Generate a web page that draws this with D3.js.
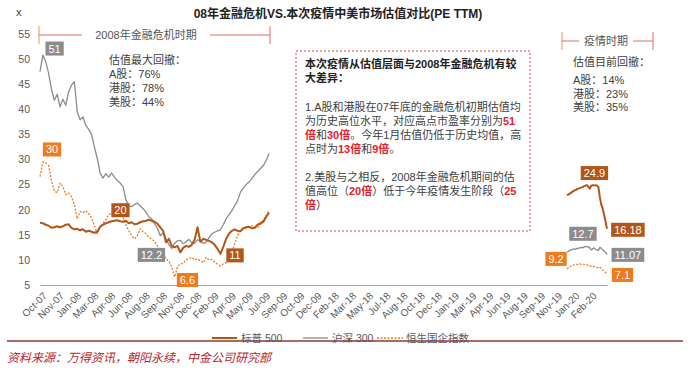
<!DOCTYPE html>
<html>
<head>
<meta charset="utf-8">
<script src="https://cdn.jsdelivr.net/npm/d3@7"></script>
<style>
body{margin:0;background:#fff;}
text{font-family:"Liberation Sans",Arial,"Noto Sans CJK SC",sans-serif;}
</style>
</head>
<body>
<div id="chart"></div>
<script>
// category labels on the x axis (one every 6 steps)
var xLabels = ["Oct-07","Nov-07","Jan-08","Mar-08","Apr-08","Jun-08","Aug-08","Sep-08","Nov-08","Dec-08",
  "Feb-09","Apr-09","May-09","Jul-09","Sep-09","Oct-09","Dec-09","Feb-18","Mar-18","May-18","Jul-18",
  "Aug-18","Oct-18","Dec-18","Jan-19","Mar-19","Apr-19","Jun-19","Aug-19","Sep-19","Nov-19","Jan-20","Feb-20"];
var yTicks = [5,10,15,20,25,30,35,40,45,50,55];

// 2007-2009 segment, one value per step starting at step 0
var csi300_0709 = [47.5,50.8,49.5,47.2,44,41.8,43,40.5,42,40.8,
  43.5,44.8,45.5,39.5,37.9,38.5,36.8,36,35,32.5,
  30.2,27.3,26.3,27.2,26.5,27.3,26.5,25.8,25.3,24.6,
  22,20.8,20.6,21,21.3,20.8,20.2,19.5,18.6,18.2,
  17.2,16.3,14.8,15.4,14.2,13,12.3,13.3,13.8,13.9,
  13.2,13.6,14.1,13.4,13.3,14,13.8,13.3,13.5,14.4,
  15.2,15.5,15.8,16,17,18.2,19,19.8,20.8,21.8,
  23.5,24.3,25,25.5,26.2,27,27.6,28.2,28.8,29.8,31.2];
var sp500_0709 = [17.4,17.3,17,16.8,16.4,16.5,16.7,16.5,16.7,17,
  17.1,16.4,16.1,16.2,15.9,16.1,15.6,15.8,15.6,15.4,
  15.6,16.6,17,17.3,17.5,17.7,17.8,17.9,17.7,17.6,
  17.8,17.3,17.5,17.1,17.2,17.5,17.7,17.8,18,17.8,
  17.6,17.2,16.5,15.8,13.5,14.2,12.8,12.5,12.8,11.5,
  12.4,12.8,12.6,13,14,16.5,13.6,14.2,14,13.8,
  13.5,13,12.2,11.2,12.6,14.2,15.2,15.8,16.1,15.8,
  15.7,16.3,16.5,16.6,16.3,16.4,17,17.3,17.6,18.6,19.4];
var hscei_0709 = [26.6,29.5,29.3,28.8,25.8,23.7,23.4,25.3,24.6,23,
  23.3,22.6,21,18.2,19.6,19.4,19.8,19.2,18.4,16.8,
  15.2,16.6,17.3,18,19,19.3,19,19,19.3,18.6,
  17,15.8,14.8,14.2,14.8,16.2,15.6,15.2,14.5,14.2,
  13.6,12.8,12,11.3,10.2,9.8,8.6,6.6,8.6,9.2,
  9.3,10,10.3,10.5,10,10.2,9.9,9.4,10.5,10,
  10.1,9.6,9.1,8.8,9.2,9.4,10.3,11.4,13.3,14.8,
  16,16.2,16.4,16.6,16.8,16.6,16.4,17,18,18.8,20];

// 2019-2020 segment, half-step values starting at step 184
var csi300_20 = [11.6,11.7,11.9,12.0,12.1,12.2,12.1,12.3,12.3,12.4,
  12.5,12.4,12.6,12.7,12.6,12.6,12.4,12.0,12.2,12.4,
  12.1,12.0,11.9,12.5,12.3,12.0,11.8,11.5,11.07];
var sp500_20 = [22.9,23,23.2,23.4,23.6,23.8,23.9,24.1,24.2,24.3,
  24.4,24.5,24.7,24.8,24.9,24.6,24.2,24.8,24.9,24.8,
  24.9,24.8,24.5,22.5,21,20.2,19,17.6,16.2];
var hscei_20 = [8.2,8.4,8.6,8.8,8.9,9.0,9.0,9.1,9.1,9.2,
  9.1,9.2,9.1,9.0,9.0,8.9,8.8,8.7,8.6,8.7,
  8.6,8.5,8.4,8.5,8.3,8.0,7.8,7.5,7.2];

var seriesNames = ["标普 500","沪深 300","恒生国企指数"];
var seriesColors = {sp:"#B2561A", csi:"#8C8C8C", hs:"#F07A1E"};

// value callouts: text, series, centre in data units (step, value)
var callouts = [
  ["51","csi",5.1,52.1],["30","hs",4.2,32.0],["20","sp",28.1,19.9],
  ["12.2","csi",38.9,11.0],["6.6","hs",51.5,6.0],["11","sp",68.1,10.9],
  ["24.9","sp",193.6,27.3],["16.18","sp",205.3,16.0],["12.7","csi",189.6,15.2],
  ["11.07","csi",205.3,11.0],["9.2","hs",180.2,10.2],["7.1","hs",203.4,7.0]
];

var w = 690, h = 368;
var svg = d3.select("#chart").append("svg").attr("width", w).attr("height", h);
svg.append("rect").attr("width", w).attr("height", h).attr("fill", "white");

var x = d3.scaleLinear().domain([0, 198]).range([40, 607]);
var y = d3.scaleLinear().domain([5, 55]).range([285, 34]);

function toPoints(vals, start, step){
  return vals.map(function(v, i){ return {i: start + i*step, v: v}; });
}

// axes
var yAxis = d3.axisLeft(y).tickValues(yTicks).tickSize(0).tickPadding(10);
var gy = svg.append("g").attr("transform", "translate(40,0)").call(yAxis);
gy.select(".domain").remove();
gy.selectAll("text").style("font-size", "10.5px").attr("fill", "#595959");

var xAxis = d3.axisBottom(x)
  .tickValues(xLabels.map(function(d, i){ return 6*i + 3; }))
  .tickFormat(function(d, i){ return xLabels[i]; })
  .tickSize(0);
var gx = svg.append("g").attr("transform", "translate(0,285)").call(xAxis);
gx.select(".domain").attr("stroke", "#a6a6a6");
gx.selectAll("text")
  .attr("x", 0).attr("y", 0).attr("dy", "0.35em")
  .attr("text-anchor", "end")
  .attr("transform", "translate(-4,9) rotate(-45)")
  .style("font-size", "10px").attr("fill", "#595959");

// lines
var line = d3.line().x(function(d){ return x(d.i); }).y(function(d){ return y(d.v); });
var segs = [
  [csi300_0709, 0, 1, "csi"], [csi300_20, 184, 0.5, "csi"],
  [hscei_0709, 0, 1, "hs"], [hscei_20, 184, 0.5, "hs"],
  [sp500_0709, 0, 1, "sp"], [sp500_20, 184, 0.5, "sp"]
];
segs.forEach(function(s){
  svg.append("path")
    .datum(toPoints(s[0], s[1], s[2]))
    .attr("d", line)
    .attr("fill", "none")
    .attr("stroke", seriesColors[s[3]])
    .attr("stroke-width", s[3] == "sp" ? 2 : 1.3)
    .attr("stroke-dasharray", s[3] == "hs" ? "2,1.5" : null)
    .attr("stroke-linejoin", "round");
});

// callout boxes
callouts.forEach(function(c){
  var g = svg.append("g");
  var t = g.append("text")
    .attr("x", x(c[2])).attr("y", y(c[3]))
    .attr("dy", "0.36em").attr("text-anchor", "middle")
    .style("font-size", "11px").attr("fill", "white").text(c[0]);
  var tw = t.node().getComputedTextLength();
  g.insert("rect", "text")
    .attr("x", x(c[2]) - tw/2 - 3).attr("y", y(c[3]) - 7)
    .attr("width", tw + 6).attr("height", 14)
    .attr("fill", seriesColors[c[1]]);
});

// title
svg.append("text").attr("x", 338).attr("y", 18).attr("text-anchor", "middle")
  .style("font-size", "12px").style("font-weight", "bold").attr("fill", "#222")
  .text("08年金融危机VS.本次疫情中美市场估值对比(PE TTM)");
svg.append("text").attr("x", 16).attr("y", 16).style("font-size", "11px").attr("fill", "#404040").text("x");

// period brackets
function bracket(x0, x1, yy, lx0, lx1, label){
  var c = "#E06A6A";
  svg.append("line").attr("x1", x0).attr("x2", x0).attr("y1", yy-9).attr("y2", yy+9).attr("stroke", "#E8955A");
  svg.append("line").attr("x1", x1).attr("x2", x1).attr("y1", yy-9).attr("y2", yy+9).attr("stroke", c);
  svg.append("line").attr("x1", x0).attr("x2", lx0).attr("y1", yy).attr("y2", yy).attr("stroke", c);
  svg.append("line").attr("x1", lx1).attr("x2", x1).attr("y1", yy).attr("y2", yy).attr("stroke", c);
  svg.append("text").attr("x", (lx0 + lx1)/2).attr("y", yy + 4).attr("text-anchor", "middle")
    .style("font-size", "11px").attr("fill", "#555").text(label);
}
bracket(39, 270, 35, 82, 210, "2008年金融危机时期");
bracket(562, 653, 41, 579, 633, "疫情时期");

// drawdown notes
function lines(x0, ys, arr){
  arr.forEach(function(s, i){
    svg.append("text").attr("x", x0).attr("y", ys[i])
      .style("font-size", "11px").attr("fill", "#404040").text(s);
  });
}
lines(109, [64, 78, 92, 106], ["估值最大回撤：","A股：76%","港股：78%","美股：44%"]);
lines(573, [66, 84, 98, 111], ["估值目前回撤：","A股：14%","港股：23%","美股：35%"]);

// dashed comment box
svg.append("rect").attr("x", 296).attr("y", 51).attr("width", 234).attr("height", 180)
  .attr("fill", "none").attr("stroke", "#E0404F").attr("stroke-dasharray", "2,2");
var boxLines = [
  [68, [["本次疫情从估值层面与2008年金融危机有较", "b"]]],
  [82, [["大差异：", "b"]]],
  [111, [["1.A股和港股在07年底的金融危机初期估值均", ""]]],
  [125, [["为历史高位水平，对应高点市盈率分别为", ""], ["51", "r"]]],
  [139, [["倍", "r"], ["和", ""], ["30倍", "r"], ["。今年1月估值仍低于历史均值，高", ""]]],
  [153, [["点时为", ""], ["13倍", "r"], ["和", ""], ["9倍", "r"], ["。", ""]]],
  [181, [["2.美股与之相反，2008年金融危机期间的估", ""]]],
  [195, [["值高位（", ""], ["20倍", "r"], ["）低于今年疫情发生阶段（", ""], ["25", "r"]]],
  [209, [["倍", "r"], ["）", ""]]]
];
boxLines.forEach(function(l){
  var t = svg.append("text").attr("x", 305).attr("y", l[0]).style("font-size", "11px");
  l[1].forEach(function(p){
    t.append("tspan").text(p[0])
      .attr("fill", p[1] == "r" ? "#E8202A" : (p[1] == "b" ? "#222" : "#404040"))
      .style("font-weight", p[1] == "" ? "normal" : "bold");
  });
});

// legend
var legend = [[212, "sp"], [303, "csi"], [377, "hs"]];
legend.forEach(function(l, i){
  svg.append("line").attr("x1", l[0]).attr("x2", l[0] + (i == 2 ? 26 : 25)).attr("y1", 338).attr("y2", 338)
    .attr("stroke", seriesColors[l[1]]).attr("stroke-width", l[1] == "sp" ? 2 : 1.3)
    .attr("stroke-dasharray", l[1] == "hs" ? "2,1.5" : null);
  svg.append("text").attr("x", l[0] + 29).attr("y", 342)
    .style("font-size", "10.5px").attr("fill", "#595959").text(seriesNames[i]);
});

// separator and source
svg.append("line").attr("x1", 7).attr("x2", 683).attr("y1", 341).attr("y2", 341)
  .attr("stroke", "#8B3A3A").attr("stroke-width", 1.3);
svg.append("text").attr("x", 7).attr("y", 362)
  .style("font-size", "12px").style("font-style", "italic").attr("fill", "#B8242A")
  .text("资料来源：万得资讯，朝阳永续，中金公司研究部");
</script>
</body>
</html>
